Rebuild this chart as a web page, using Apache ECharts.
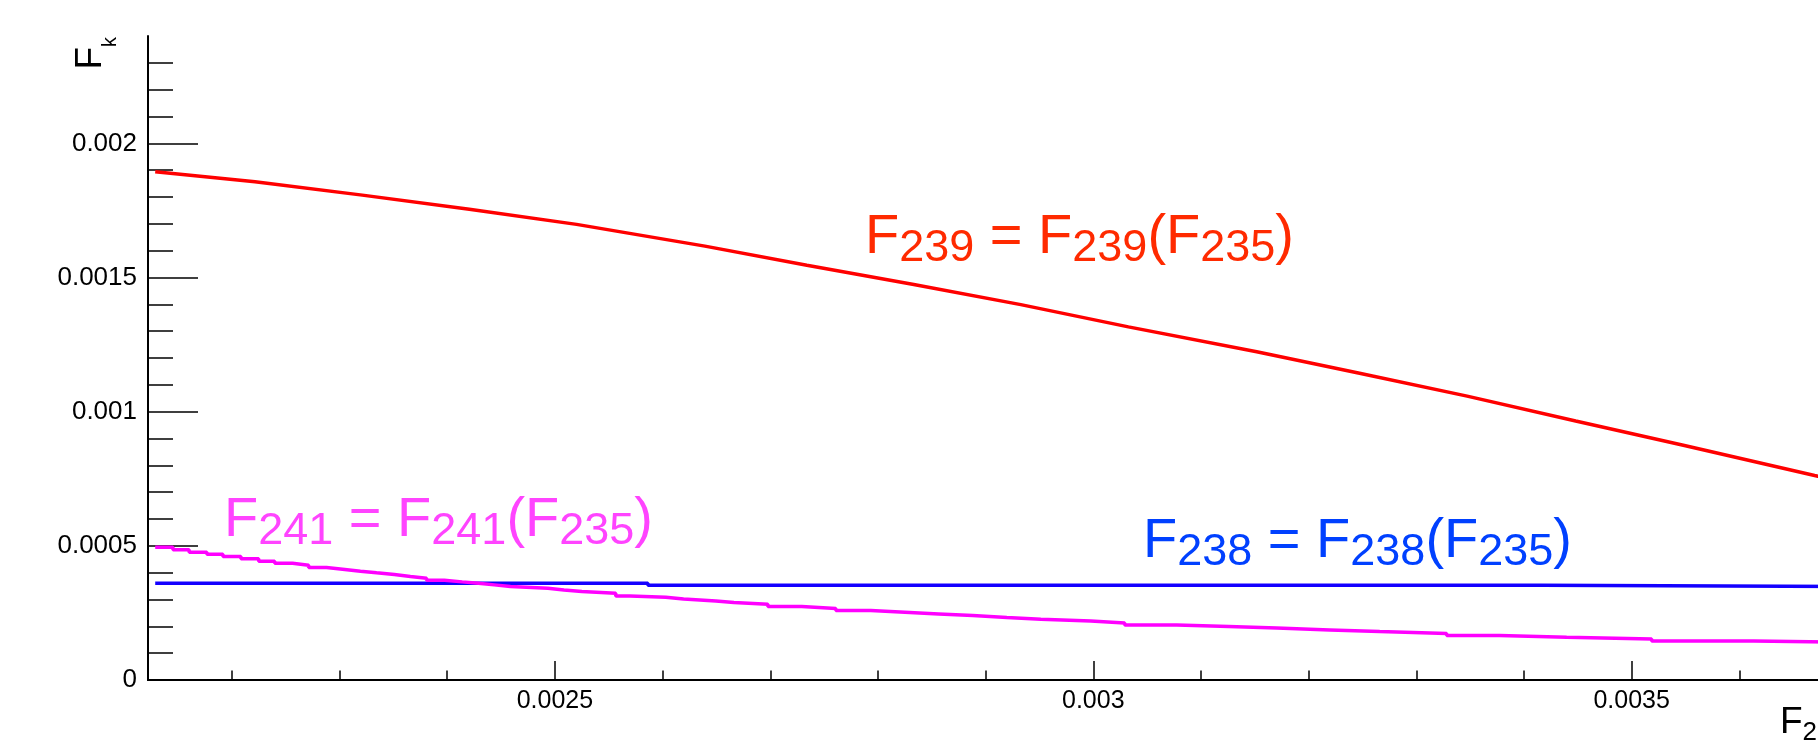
<!DOCTYPE html>
<html>
<head>
<meta charset="utf-8">
<script src="https://cdn.jsdelivr.net/npm/echarts@6/dist/echarts.min.js"></script>
<style>
  html, body { margin: 0; padding: 0; background: #fff; overflow: hidden; }
  #chart { width: 1880px; height: 745px; }
</style>
</head>
<body>
<div id="chart"></div>
<script>
// 轴范围（右侧在截图外被裁掉）
const xRange = [0.0021221, 0.0037]
const yRange = [0, 0.0024]

// 刻度
const xMajorTicks = [0.0025, 0.003, 0.0035]
const xTickLabels = ['0.0025', '0.003', '0.0035']
const xMinorTicks = [0.0022, 0.0023, 0.0024, 0.0026, 0.0027, 0.0028, 0.0029,
  0.0031, 0.0032, 0.0033, 0.0034, 0.0036]
const yMajorTicks = [0, 0.0005, 0.001, 0.0015, 0.002]
const yTickLabels = ['0', '0.0005', '0.001', '0.0015', '0.002']
const yMinorTicks = [0.0001, 0.0002, 0.0003, 0.0004, 0.0006, 0.0007, 0.0008, 0.0009,
  0.0011, 0.0012, 0.0013, 0.0014, 0.0016, 0.0017, 0.0018, 0.0019,
  0.0021, 0.0022, 0.0023]

// F239(F235) —— 红线
const f239X = [0.0021288, 0.0022215, 0.0023211, 0.0024205, 0.0025201, 0.0026393, 0.002734,
  0.0028333, 0.0029327, 0.0030326, 0.0031518, 0.0032462, 0.0033472, 0.003448,
  0.003549, 0.0036699, 0.0037]
const f239Y = [0.001894, 0.001857, 0.001807, 0.001754, 0.001698, 0.001617, 0.001546,
  0.001474, 0.001399, 0.001316, 0.001223, 0.001144, 0.001058, 0.000965,
  0.000874, 0.000762, 0.000735]

// F238(F235) —— 蓝线（阶梯）
const f238X = [0.0021288, 0.0025864, 0.0034162, 0.0037]
const f238Y = [0.000361, 0.000353, 0.000348, 0.000348]

// F241(F235) —— 品红线（阶梯，每段起点）
const f241X = [0.0021288, 0.0021453, 0.0021603, 0.0021768, 0.0021917, 0.0022084, 0.0022249,
  0.0022398, 0.0022564, 0.0022713, 0.0022879, 0.0023028, 0.0023194, 0.0023344,
  0.0023509, 0.0023658, 0.0023808, 0.0023973, 0.0024139, 0.0024289, 0.0024437,
  0.0024587, 0.0024935, 0.0025084, 0.002525, 0.0025565, 0.0025697, 0.002603,
  0.0026195, 0.0026495, 0.0026662, 0.0026978, 0.0027293, 0.0027609, 0.0027934,
  0.002825, 0.0028565, 0.0028881, 0.0029197, 0.0029513, 0.0029977, 0.0030292,
  0.0030775, 0.0031258, 0.0031704, 0.0032196, 0.003266, 0.0033282, 0.0033774,
  0.0034396, 0.0035186, 0.0036133, 0.0037]
const f241Y = [0.000495, 0.0004851, 0.0004764, 0.0004689, 0.0004602, 0.0004515, 0.0004428,
  0.0004353, 0.0004279, 0.0004192, 0.0004129, 0.0004055, 0.0003993, 0.000393,
  0.0003856, 0.0003794, 0.0003719, 0.0003657, 0.0003607, 0.0003545, 0.0003483,
  0.000342, 0.0003358, 0.0003296, 0.0003234, 0.0003134, 0.0003085, 0.0003022,
  0.0002948, 0.0002886, 0.0002823, 0.0002736, 0.0002662, 0.0002587, 0.0002525,
  0.0002463, 0.00024, 0.0002326, 0.0002264, 0.0002201, 0.0002127, 0.0002052,
  0.000199, 0.0001934, 0.0001866, 0.0001803, 0.0001729, 0.0001654, 0.0001592,
  0.000153, 0.0001455, 0.0001405, 0.0001405]

const FONT = 'Liberation Sans, Arial, Helvetica, sans-serif'
const zip = (xs, ys) => xs.map((x, i) => [x, ys[i]])
const pick = (ticks, labels) => v => {
  const i = ticks.findIndex(t => Math.abs(t - v) < 1e-9)
  return i >= 0 ? labels[i] : ''
}

const GRID = { left: 148, top: 36, width: 1699, height: 644 }

// 上下标富文本
function latex(color, mainSize, subSize, subPad) {
  return {
    m: { fontSize: mainSize, fontFamily: FONT, fill: color, verticalAlign: 'top' },
    s: { fontSize: subSize, fontFamily: FONT, fill: color, verticalAlign: 'top', padding: [subPad, 0, 0, 0] },
  }
}

function label(x, y, sub, color) {
  return {
    type: 'text', x, y, z: 100,
    style: {
      text: `{m|F}{s|${sub}}{m| = F}{s|${sub}}{m|(F}{s|235}{m|)}`,
      align: 'left', verticalAlign: 'top',
      rich: latex(color, 56, 45, 16),
    },
  }
}

const option = {
  animation: false,
  backgroundColor: '#fff',
  grid: [GRID, GRID],
  xAxis: [
    {
      gridIndex: 0, type: 'value', min: xRange[0], max: xRange[1], position: 'bottom',
      axisLine: { show: true, lineStyle: { color: '#000', width: 2 } },
      axisTick: { show: true, inside: true, length: 19, customValues: xMajorTicks, lineStyle: { color: '#000', width: 1.5 } },
      axisLabel: { customValues: xMajorTicks, formatter: pick(xMajorTicks, xTickLabels), fontSize: 25, fontFamily: FONT, color: '#000', margin: 9 },
      splitLine: { show: false },
    },
    {
      gridIndex: 0, type: 'value', min: xRange[0], max: xRange[1], position: 'top',
      axisLine: { show: true, lineStyle: { color: '#000', width: 2 } },
      axisTick: { show: false }, axisLabel: { show: false }, splitLine: { show: false },
    },
    {
      gridIndex: 1, type: 'value', min: xRange[0], max: xRange[1], position: 'bottom',
      axisLine: { show: false },
      axisTick: { show: true, inside: true, length: 9.5, customValues: xMinorTicks, lineStyle: { color: '#000', width: 1.5 } },
      axisLabel: { show: false }, splitLine: { show: false },
    },
  ],
  yAxis: [
    {
      gridIndex: 0, type: 'value', min: yRange[0], max: yRange[1], position: 'left',
      axisLine: { show: true, lineStyle: { color: '#000', width: 2 } },
      axisTick: { show: true, inside: true, length: 50, customValues: yMajorTicks, lineStyle: { color: '#000', width: 1.5 } },
      axisLabel: { customValues: yMajorTicks, formatter: pick(yMajorTicks, yTickLabels), fontSize: 26, fontFamily: FONT, color: '#000', margin: 11 },
      splitLine: { show: false },
    },
    {
      gridIndex: 0, type: 'value', min: yRange[0], max: yRange[1], position: 'right',
      axisLine: { show: true, lineStyle: { color: '#000', width: 2 } },
      axisTick: { show: false }, axisLabel: { show: false }, splitLine: { show: false },
    },
    {
      gridIndex: 1, type: 'value', min: yRange[0], max: yRange[1], position: 'left',
      axisLine: { show: false },
      axisTick: { show: true, inside: true, length: 25, customValues: yMinorTicks, lineStyle: { color: '#000', width: 1.5 } },
      axisLabel: { show: false }, splitLine: { show: false },
    },
  ],
  series: [
    {
      name: 'F238', type: 'line', xAxisIndex: 0, yAxisIndex: 0, step: 'end',
      data: zip(f238X, f238Y), showSymbol: false,
      lineStyle: { color: '#1400ff', width: 3.5 },
    },
    {
      name: 'F241', type: 'line', xAxisIndex: 0, yAxisIndex: 0, step: 'end',
      data: zip(f241X, f241Y), showSymbol: false,
      lineStyle: { color: '#ff00ff', width: 3.5 },
    },
    {
      name: 'F239', type: 'line', xAxisIndex: 0, yAxisIndex: 0,
      data: zip(f239X, f239Y), showSymbol: false,
      lineStyle: { color: '#ff0000', width: 3.5 },
    },
  ],
  graphic: [
    label(865, 210, '239', '#ff2a00'),
    label(224, 493, '241', '#ff44ff'),
    label(1143, 514, '238', '#0040ff'),
    // y 轴标题 F_k（竖排）
    {
      type: 'text', x: 72, y: 37, rotation: Math.PI / 2,
      style: {
        text: '{m|F}{s|k}', align: 'right', verticalAlign: 'top',
        rich: latex('#000', 37, 20, 28),
      },
    },
    // x 轴标题 F_235
    {
      type: 'text', x: 1780, y: 704,
      style: {
        text: '{m|F}{s|235}', align: 'left', verticalAlign: 'top',
        rich: latex('#000', 37, 26, 16),
      },
    },
  ],
}

const chart = echarts.init(document.getElementById('chart'), null, { renderer: 'canvas' })
chart.setOption(option)
</script>
</body>
</html>
